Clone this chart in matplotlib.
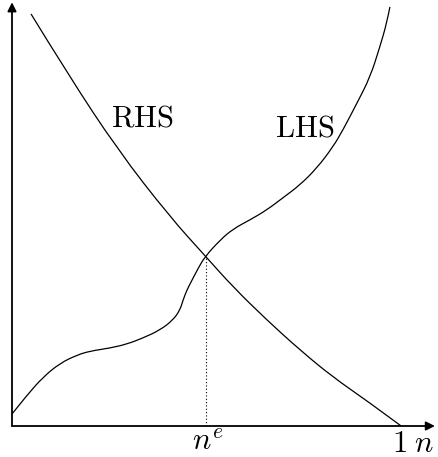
"""
equilibrium sketch: LHS vs RHS in n
outputs: out.png
"""

import matplotlib
matplotlib.use("Agg")
import matplotlib.pyplot as plt
from matplotlib.path import Path
from matplotlib.patches import PathPatch

# -- DATA (n on [0, 1]) --
lhs_n = [0.000, 0.039, 0.080, 0.124, 0.168, 0.201, 0.253, 0.296, 0.338, 0.381,
         0.415, 0.433, 0.441, 0.451, 0.464, 0.479, 0.497, 0.536, 0.570, 0.613,
         0.657, 0.698, 0.742, 0.786, 0.827, 0.853, 0.889, 0.923, 0.948, 0.966,
         0.974]
lhs_y = [0.031, 0.080, 0.126, 0.162, 0.183, 0.193, 0.201, 0.211, 0.227, 0.247,
         0.273, 0.299, 0.325, 0.351, 0.376, 0.405, 0.436, 0.479, 0.508, 0.531,
         0.557, 0.588, 0.621, 0.665, 0.719, 0.763, 0.832, 0.899, 0.977, 1.039,
         1.080]

rhs_n = [0.049, 0.142, 0.273, 0.407, 0.500, 0.570, 0.657, 0.742, 0.827, 0.915,
         1.003]
rhs_y = [1.062, 0.910, 0.711, 0.539, 0.436, 0.358, 0.273, 0.196, 0.126, 0.065,
         0.000]

n_eq = 0.5
y_eq = 0.436


def smooth_path(xs, ys):
    # quadratic b-spline: data points act as control points
    pts = list(zip(xs, ys))
    verts = [pts[0]]
    codes = [Path.MOVETO]
    for i in range(1, len(pts) - 2):
        mid = ((pts[i][0] + pts[i + 1][0]) / 2, (pts[i][1] + pts[i + 1][1]) / 2)
        verts += [pts[i], mid]
        codes += [Path.CURVE3, Path.CURVE3]
    verts += [pts[-2], pts[-1]]
    codes += [Path.CURVE3, Path.CURVE3]
    return Path(verts, codes)


# -- STYLE --
plt.rcParams["mathtext.fontset"] = "cm"
FS = 22

fig = plt.figure(figsize=(4.39, 4.57), dpi=100)
ax = fig.add_axes([0, 0, 1, 1])
ax.set_xlim(-12 / 388, 427 / 388)
ax.set_ylim(-31 / 388, 426 / 388)
ax.axis("off")

# axes with arrows
arrow = dict(arrowstyle="-|>", lw=1.3, color="black", mutation_scale=13,
             shrinkA=0, shrinkB=0)
ax.annotate("", xy=(1.090, 0), xytext=(0, 0), arrowprops=arrow)
ax.annotate("", xy=(0, 1.092), xytext=(0, 0), arrowprops=arrow)

# curves
for xs, ys in [(lhs_n, lhs_y), (rhs_n, rhs_y)]:
    ax.add_patch(PathPatch(smooth_path(xs, ys), facecolor="none",
                           edgecolor="black", linewidth=0.9))

# equilibrium drop line
ax.plot([n_eq, n_eq], [0, y_eq], color="black", linewidth=0.8, linestyle=(0, (1, 2)))

# labels
ax.text(0.335, 0.794, r"$\mathrm{RHS}$", fontsize=FS, ha="center", va="center")
ax.text(0.755, 0.768, r"$\mathrm{LHS}$", fontsize=FS, ha="center", va="center")
ax.text(n_eq + 0.005, -0.062, r"$n^e$", fontsize=FS, ha="center", va="baseline")
ax.text(0.979, -0.066, r"$1\;n$", fontsize=FS, ha="left", va="baseline")

plt.savefig("out.png", dpi=100)
plt.close()
